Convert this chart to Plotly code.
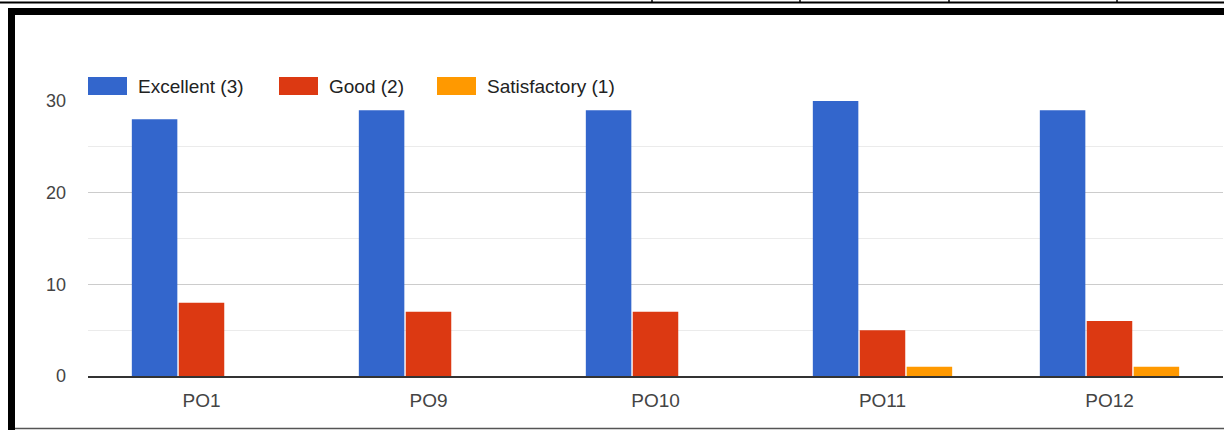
import plotly.graph_objects as go

categories = ["PO1", "PO9", "PO10", "PO11", "PO12"]
excellent = [28, 29, 29, 30, 29]
good = [8, 7, 7, 5, 6]
satisfactory = [0, 0, 0, 1, 1]
series_names = ["Excellent (3)", "Good (2)", "Satisfactory (1)"]
series_colors = ["#3366cc", "#dc3912", "#ff9900"]

W, H = 1224, 430
L, R, T, B = 88, 1, 101, 54
pw, ph = W - L - R, H - T - B

def px(x):
    return (x - L) / pw

def py(y):
    return (H - B - y) / ph

fig = go.Figure()
for name, vals, col in zip(series_names, [excellent, good, satisfactory], series_colors):
    fig.add_trace(go.Bar(x=categories, y=vals, name=name, marker=dict(color=col, line=dict(width=0))))

shapes = []
annotations = []
# custom legend (wide swatches like the source chart)
legend_swatch_x = [88, 279, 437]
for sx, name, col in zip(legend_swatch_x, series_names, series_colors):
    shapes.append(dict(type="rect", xref="paper", yref="paper", x0=px(sx), x1=px(sx + 39),
                       y0=py(95), y1=py(77), fillcolor=col, line=dict(width=0)))
    annotations.append(dict(xref="paper", yref="paper", x=px(sx + 48), y=py(86), text=name,
                            showarrow=False, xanchor="left", yanchor="middle",
                            font=dict(size=19, color="#222")))

# frame
shapes.append(dict(type="rect", xref="paper", yref="paper", x0=px(8), x1=px(1226), y0=py(15), y1=py(8),
                   fillcolor="black", line=dict(width=0), layer="above"))
shapes.append(dict(type="rect", xref="paper", yref="paper", x0=px(8), x1=px(15), y0=py(432), y1=py(8),
                   fillcolor="black", line=dict(width=0), layer="above"))
shapes.append(dict(type="line", xref="paper", yref="paper", x0=px(15), x1=px(1226), y0=py(428.5), y1=py(428.5),
                   line=dict(color="#555", width=1.5), layer="above"))
shapes.append(dict(type="line", xref="paper", yref="paper", x0=px(0), x1=px(1226), y0=py(2.5), y1=py(2.5),
                   line=dict(color="black", width=2), layer="above"))
for vx in [652, 800, 949, 1117]:
    shapes.append(dict(type="line", xref="paper", yref="paper", x0=px(vx), x1=px(vx), y0=py(0), y1=py(3),
                       line=dict(color="black", width=1.5), layer="above"))

fig.update_layout(
    width=W, height=H,
    margin=dict(l=L, r=R, t=T, b=B),
    paper_bgcolor="white", plot_bgcolor="white",
    barmode="group", bargap=0.38, bargroupgap=0.03,
    font=dict(family="Liberation Sans, Arial, sans-serif", size=19, color="#222"),
    showlegend=False,
    xaxis=dict(showgrid=False, ticks="", tickfont=dict(size=19, color="#444"),
               ticklabelstandoff=6, showline=True, linecolor="#333", linewidth=1.5),
    yaxis=dict(range=[0, 30], tickvals=[0, 10, 20, 30], showgrid=True, gridcolor="#cccccc",
               gridwidth=1, zeroline=False, showline=False, ticks="",
               tickfont=dict(size=18, color="#444"), ticklabelstandoff=21,
               minor=dict(tickvals=[5, 15, 25], showgrid=True, gridcolor="#ebebeb", gridwidth=1)),
    shapes=shapes,
    annotations=annotations,
)

fig.write_html("out.html", config={"displayModeBar": False},
               post_script="document.body.style.margin='0';")
